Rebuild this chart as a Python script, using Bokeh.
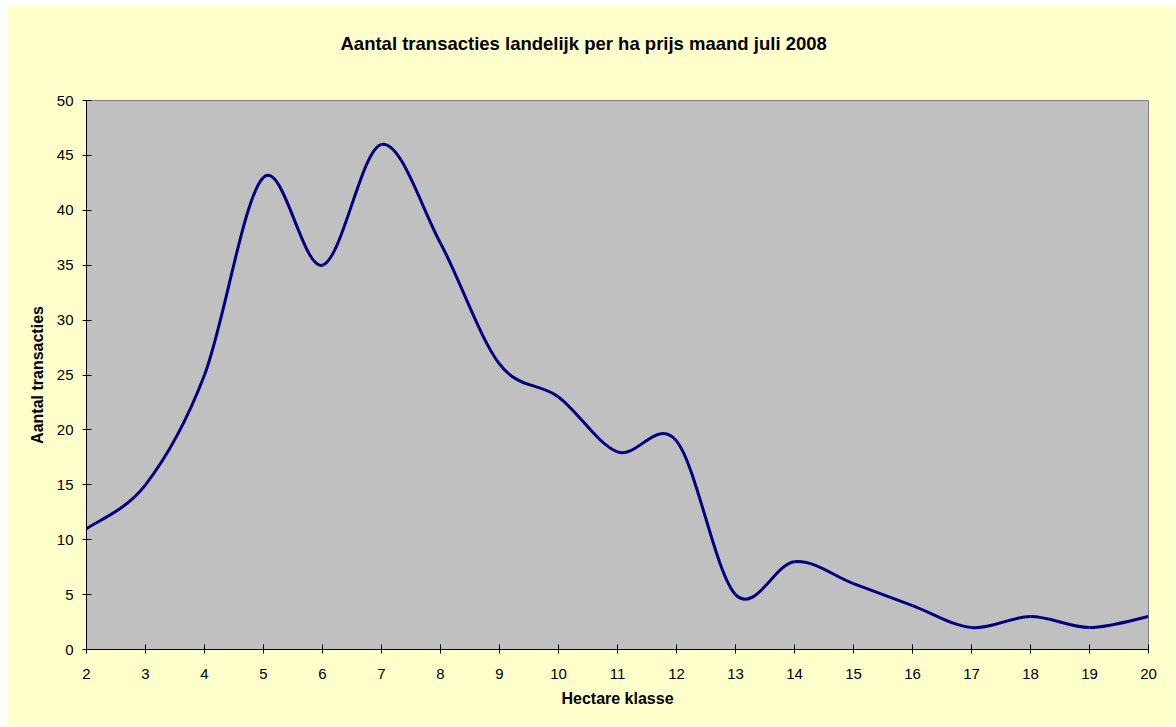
from bokeh.plotting import figure
from bokeh.models import Range1d, FixedTicker, Title, ColumnDataSource
from bokeh.embed import file_html
from bokeh.resources import INLINE

# --- data ---
hectare_klasse = [2, 3, 4, 5, 6, 7, 8, 9, 10, 11, 12, 13, 14, 15, 16, 17, 18, 19, 20]
aantal_transacties = [11, 15, 25, 43, 35, 46, 37, 26, 23, 18, 19, 5, 8, 6, 4, 2, 3, 2, 3]
y_ticks = [0, 5, 10, 15, 20, 25, 30, 35, 40, 45, 50]
title_text = "Aantal transacties landelijk per ha prijs maand juli 2008"
x_label = "Hectare klasse"
y_label = "Aantal transacties"

FONT = "Liberation Sans"

# Excel-style smoothed line: cubic Bezier segments with Catmull-Rom control points
n = len(hectare_klasse)
x0, y0, x1, y1, cx0, cy0, cx1, cy1 = [], [], [], [], [], [], [], []
for i in range(n - 1):
    xp = hectare_klasse[max(i - 1, 0)]
    yp = aantal_transacties[max(i - 1, 0)]
    xa, ya = hectare_klasse[i], aantal_transacties[i]
    xb, yb = hectare_klasse[i + 1], aantal_transacties[i + 1]
    xn = hectare_klasse[min(i + 2, n - 1)]
    yn = aantal_transacties[min(i + 2, n - 1)]
    x0.append(xa); y0.append(ya); x1.append(xb); y1.append(yb)
    cx0.append(xa + (xb - xp) / 6.0); cy0.append(ya + (yb - yp) / 6.0)
    cx1.append(xb - (xn - xa) / 6.0); cy1.append(yb - (yn - ya) / 6.0)

src = ColumnDataSource(dict(x0=x0, y0=y0, x1=x1, y1=y1, cx0=cx0, cy0=cy0, cx1=cx1, cy1=cy1))

p = figure(width=1168, height=721, output_backend="svg", toolbar_location=None,
           x_range=Range1d(2, 20), y_range=Range1d(0, 50),
           min_border_left=79, min_border_right=27, min_border_top=95, min_border_bottom=77)
p.margin = (5, 0, 0, 7)

p.background_fill_color = "#C0C0C0"
p.border_fill_color = "#FFFFCC"
p.outline_line_color = "#808080"
p.outline_line_width = 1
p.grid.visible = False

p.bezier(x0="x0", y0="y0", x1="x1", y1="y1", cx0="cx0", cy0="cy0", cx1="cx1", cy1="cy1",
         source=src, line_color="#000080", line_width=3)

# spacer between the frame and the title so the title sits high in the border area
spacer = Title(text=" ", text_font=FONT, text_font_size="1px", standoff=44)
p.add_layout(spacer, "above")
t = Title(text=title_text, text_font=FONT, text_font_size="18.5px", text_font_style="bold",
          text_color="black", align="left", offset=254, standoff=0)
p.add_layout(t, "above")

for ax in (p.xaxis[0], p.yaxis[0]):
    ax.axis_line_color = "black"
    ax.axis_line_width = 1
    ax.major_tick_line_color = "black"
    ax.major_tick_in = 5
    ax.major_tick_out = 4
    ax.minor_tick_line_color = None
    ax.major_label_text_font = FONT
    ax.major_label_text_font_size = "15px"
    ax.major_label_text_color = "black"
    ax.axis_label_text_font = FONT
    ax.axis_label_text_font_size = "16px"
    ax.axis_label_text_font_style = "bold"
    ax.axis_label_text_color = "black"

p.xaxis.ticker = FixedTicker(ticks=hectare_klasse)
p.yaxis.ticker = FixedTicker(ticks=y_ticks)
p.xaxis.axis_label = x_label
p.yaxis.axis_label = y_label
p.xaxis.major_label_standoff = 15
p.yaxis.major_label_standoff = 9
p.xaxis.axis_label_standoff = 8
p.yaxis.axis_label_standoff = 8

open("out.html", "w").write(file_html(p, INLINE))
